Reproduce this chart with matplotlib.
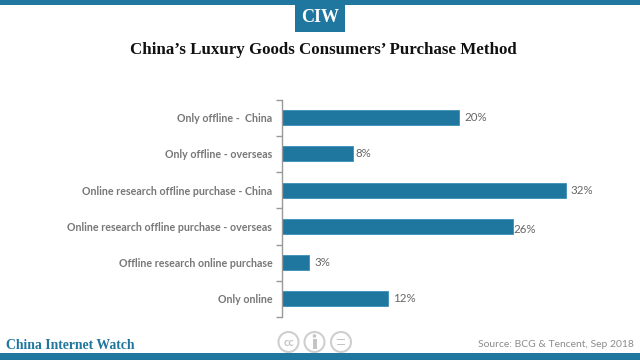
import matplotlib
matplotlib.use('Agg')
import matplotlib.pyplot as plt
from matplotlib.patches import Circle, Rectangle

categories = ['Only offline -  China', 'Only offline - overseas',
              'Online research offline purchase - China',
              'Online research offline purchase - overseas',
              'Offline research online purchase', 'Only online']
values = [20, 8, 32, 26, 3, 12]
value_labels = ['20%', '8%', '32%', '26%', '3%', '12%']
# the labels are not placed evenly in the original, offsets in points
label_dx = [3.5, 1.5, 3.5, 0.5, 4, 3.5]
label_dy = [0, 0, 0, -2, 0, 0]

blue = '#1f769f'
W, H = 640., 360.

plt.rcParams['font.family'] = ['Lato', 'DejaVu Sans']
fig = plt.figure(figsize=(6.4, 3.6), dpi=100)

# full-figure axes in pixel coords for the banner, footer etc
bg = fig.add_axes([0, 0, 1, 1])
bg.set_xlim(0, W)
bg.set_ylim(H, 0)
bg.axis('off')
bg.add_patch(Rectangle((0, 0), 640, 4.5, color=blue, lw=0))
bg.add_patch(Rectangle((295, 0), 50, 32, color=blue, lw=0))
bg.add_patch(Rectangle((0, 353), 640, 7, color=blue, lw=0))
bg.text(320, 17.5, 'CIW', color='white', fontsize=13, fontweight='bold',
        family='Liberation Serif', ha='center', va='center')
bg.text(323.5, 49.5, 'China\u2019s Luxury Goods Consumers\u2019 Purchase Method', color='#111111',
        fontsize=12.2, fontweight='bold', family='Liberation Serif', ha='center', va='center')
bg.text(6, 345.5, 'China Internet Watch', color=blue, fontsize=9.9, fontweight='bold',
        family='Liberation Serif', ha='left', va='center')
bg.text(634, 344.5, 'Source: BCG & Tencent, Sep 2018', color='#8c8c8c', fontsize=7.5,
        ha='right', va='center')

# cc icons
for cx in [288.5, 314.5, 341]:
    bg.add_patch(Circle((cx, 342), 10, fc='white', ec='#cfcfcf', lw=1.5))
bg.text(288.5, 342, 'cc', color='#c4c4c4', fontsize=8, fontweight='bold', ha='center', va='center')
bg.add_patch(Circle((314.5, 336), 1.8, color='#c4c4c4', lw=0))
bg.add_patch(Rectangle((312.5, 339), 4, 10, color='#c4c4c4', lw=0))
bg.add_patch(Rectangle((337, 339), 8, 1.4, color='#c4c4c4', lw=0))
bg.add_patch(Rectangle((337, 343.5), 8, 1.4, color='#c4c4c4', lw=0))

# bar chart
left, right, top, bottom = 282., 637., 99.5, 317.
ax = fig.add_axes([left / W, 1 - bottom / H, (right - left) / W, (bottom - top) / H])
ax.patch.set_alpha(0)
ypos = list(range(len(categories)))
ax.barh(ypos, values, height=0.42, color=blue, edgecolor='#3a8fb8', linewidth=0.6)
ax.set_xlim(0, (right - left) / 8.87)
ax.set_ylim(5.5, -0.5)
ax.set_yticks([y - 0.5 for y in ypos] + [5.5])
ax.set_yticklabels([])
ax.set_yticks(ypos, minor=True)
ax.set_yticklabels(categories, minor=True, color='#777777', fontsize=7.7, fontweight='bold')
ax.tick_params(axis='y', which='major', length=4, width=1, color='#999999')
ax.tick_params(axis='y', which='minor', length=0, pad=7)
ax.xaxis.set_visible(False)
for s in ['top', 'right', 'bottom']:
    ax.spines[s].set_visible(False)
ax.spines['left'].set_color('#999999')
ax.spines['left'].set_linewidth(1)

for y, v, lab, dx, dy in zip(ypos, values, value_labels, label_dx, label_dy):
    ax.annotate(lab, (v, y), xytext=(dx, dy), textcoords='offset points', color='#666666',
                fontsize=8.3, va='center', ha='left')

fig.savefig('out.png', dpi=100)
